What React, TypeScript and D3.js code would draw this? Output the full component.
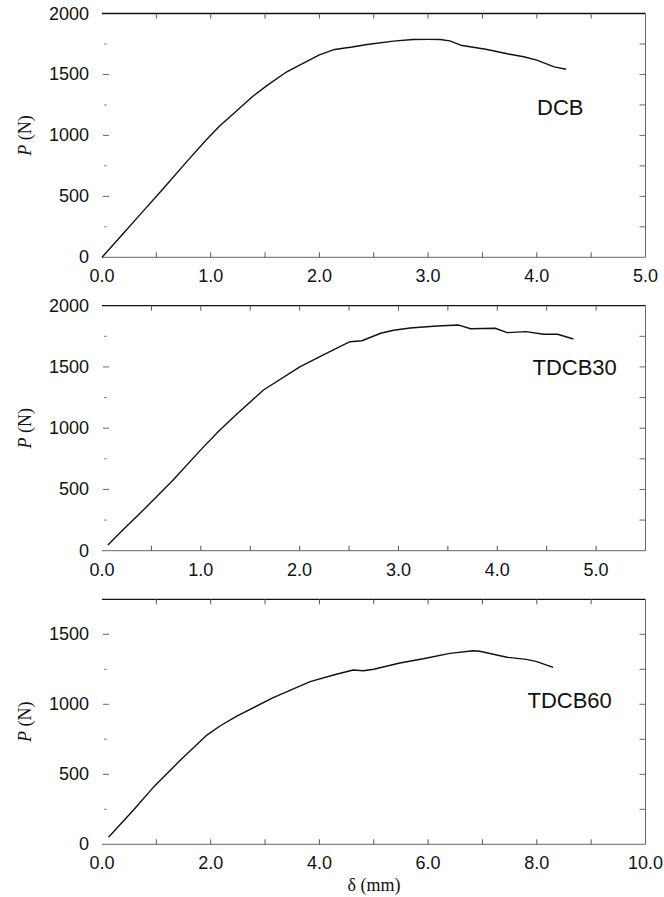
import React from 'react';
import { scaleLinear, line, range } from 'd3';

// load-displacement curves
const dcbDelta = [0, 0.2, 0.35, 0.55, 0.78, 0.96, 1.08, 1.25, 1.38, 1.52, 1.7, 1.88, 2.0, 2.14, 2.3, 2.44, 2.68, 2.86, 3.0, 3.11, 3.2, 3.3, 3.53, 3.74, 3.88, 4.0, 4.16, 4.27];
const dcbLoad = [0, 200, 350, 550, 785, 965, 1075, 1210, 1315, 1410, 1522, 1605, 1660, 1705, 1725, 1746, 1773, 1787, 1788, 1787, 1775, 1740, 1707, 1668, 1645, 1617, 1562, 1543];

const tdcb30Delta = [0.06, 0.2, 0.385, 0.72, 0.99, 1.18, 1.365, 1.634, 2.006, 2.24, 2.51, 2.63, 2.82, 2.95, 3.12, 3.22, 3.39, 3.61, 3.73, 3.98, 4.1, 4.29, 4.47, 4.61, 4.77];
const tdcb30Load = [46, 160, 305, 577, 815, 975, 1115, 1312, 1502, 1598, 1706, 1714, 1775, 1800, 1818, 1824, 1834, 1842, 1812, 1816, 1780, 1788, 1767, 1767, 1728];

const tdcb60Delta = [0.12, 0.58, 0.94, 1.44, 1.93, 2.17, 2.48, 3.15, 3.83, 4.26, 4.62, 4.81, 5.0, 5.48, 5.91, 6.4, 6.83, 6.95, 7.45, 7.81, 8.0, 8.3];
const tdcb60Load = [50, 245, 405, 600, 780, 845, 916, 1047, 1162, 1209, 1245, 1240, 1250, 1295, 1325, 1364, 1383, 1379, 1336, 1321, 1305, 1264];

const panelNames = ['DCB', 'TDCB30', 'TDCB60'];
const panelDeltas = [dcbDelta, tdcb30Delta, tdcb60Delta];
const panelLoads = [dcbLoad, tdcb30Load, tdcb60Load];
const xMaxes = [5, 5.5, 10];
const xMajorSteps = [1, 1, 2];
const yMaxes = [2000, 2000, 1750];
const yMajorTicks = [0, 500, 1000, 1500, 2000];
// where each specimen name sits, in data units (right end, baseline)
const nameDelta = [4.43, 5.21, 9.38];
const nameLoad = [1166, 1434, 974];

const W = 664;
const H = 897;
const left = 102;
const right = 645.5;
const tops = [13.5, 305.7, 599.3];
const bottoms = [257.3, 550.7, 844.3];

const sans = '"Liberation Sans", Arial, Helvetica, sans-serif';
const serif = '"Liberation Serif", "Times New Roman", serif';

function Panel({ i }: { i: number }) {
  const x = scaleLinear().domain([0, xMaxes[i]]).range([left, right]);
  const y = scaleLinear().domain([0, yMaxes[i]]).range([bottoms[i], tops[i]]);
  const step = xMajorSteps[i];
  const xMajor = range(0, xMaxes[i] + 1e-9, step);
  const xMinor = range(step / 2, xMaxes[i], step);
  const yMajor = yMajorTicks.filter((v) => v <= yMaxes[i]);
  const yMinor = range(250, yMaxes[i], 500);
  const pts = panelDeltas[i].map((d, k) => [d, panelLoads[i][k]] as [number, number]);
  const path = line<[number, number]>()
    .x((d) => x(d[0]))
    .y((d) => y(d[1]))(pts);
  const top = tops[i];
  const bot = bottoms[i];
  const midY = (top + bot) / 2;
  return (
    <g>
      {/* frame: black top, grey bottom and right */}
      <line x1={left} x2={right} y1={top} y2={top} stroke="#111" strokeWidth={1.3} />
      <line x1={left} x2={right} y1={bot} y2={bot} stroke="#666" strokeWidth={1} />
      <line x1={right} x2={right} y1={top} y2={bot} stroke="#666" strokeWidth={1} />
      {xMajor.concat(xMinor).filter((v) => v > 0 && v < xMaxes[i] - 1e-9).map((v) => (
        <g key={'xt' + v}>
          <line x1={x(v)} x2={x(v)} y1={bot} y2={bot - 5} stroke="#555" />
          <line x1={x(v)} x2={x(v)} y1={top} y2={top + 5} stroke="#555" />
        </g>
      ))}
      {yMajor.filter((v) => v > 0 && v < yMaxes[i]).map((v) => (
        <g key={'ym' + v}>
          <line x1={left + 1} x2={left + 7} y1={y(v)} y2={y(v)} stroke="#666" />
          <line x1={right} x2={right - 6} y1={y(v)} y2={y(v)} stroke="#666" />
        </g>
      ))}
      {yMinor.map((v) => (
        <g key={'yn' + v}>
          <line x1={left + 2} x2={left + 5} y1={y(v)} y2={y(v)} stroke="#888" />
          <line x1={right} x2={right - 6} y1={y(v)} y2={y(v)} stroke="#666" />
        </g>
      ))}
      {yMajor.map((v) => (
        <text key={'yl' + v} x={89} y={y(v) + 6} textAnchor="end" fontFamily={sans} fontSize={18} fill="#111">
          {v}
        </text>
      ))}
      {xMajor.map((v) => (
        <text key={'xl' + v} x={x(v)} y={bot + 25} textAnchor="middle" fontFamily={sans} fontSize={18} fill="#111">
          {v.toFixed(1)}
        </text>
      ))}
      <text
        transform={`translate(31,${midY}) rotate(-90)`}
        textAnchor="middle"
        fontFamily={serif}
        fontSize={18}
        fill="#111"
      >
        <tspan fontStyle="italic">P</tspan> (N)
      </text>
      <path d={path || ''} fill="none" stroke="#111" strokeWidth={1.4} strokeLinejoin="round" />
      <text
        x={x(nameDelta[i])}
        y={y(nameLoad[i])}
        textAnchor="end"
        fontFamily={sans}
        fontSize={22}
        fill="#111"
      >
        {panelNames[i]}
      </text>
    </g>
  );
}

export default function App() {
  return (
    <svg
      width={W}
      height={H}
      viewBox={`0 0 ${W} ${H}`}
      style={{ position: 'absolute', left: 0, top: 0, background: '#fff' }}
    >
      <rect width={W} height={H} fill="#fff" />
      {panelNames.map((_, i) => (
        <Panel key={i} i={i} />
      ))}
      <text x={374} y={891} textAnchor="middle" fontFamily={serif} fontSize={18} fill="#111">
        δ (mm)
      </text>
    </svg>
  );
}
